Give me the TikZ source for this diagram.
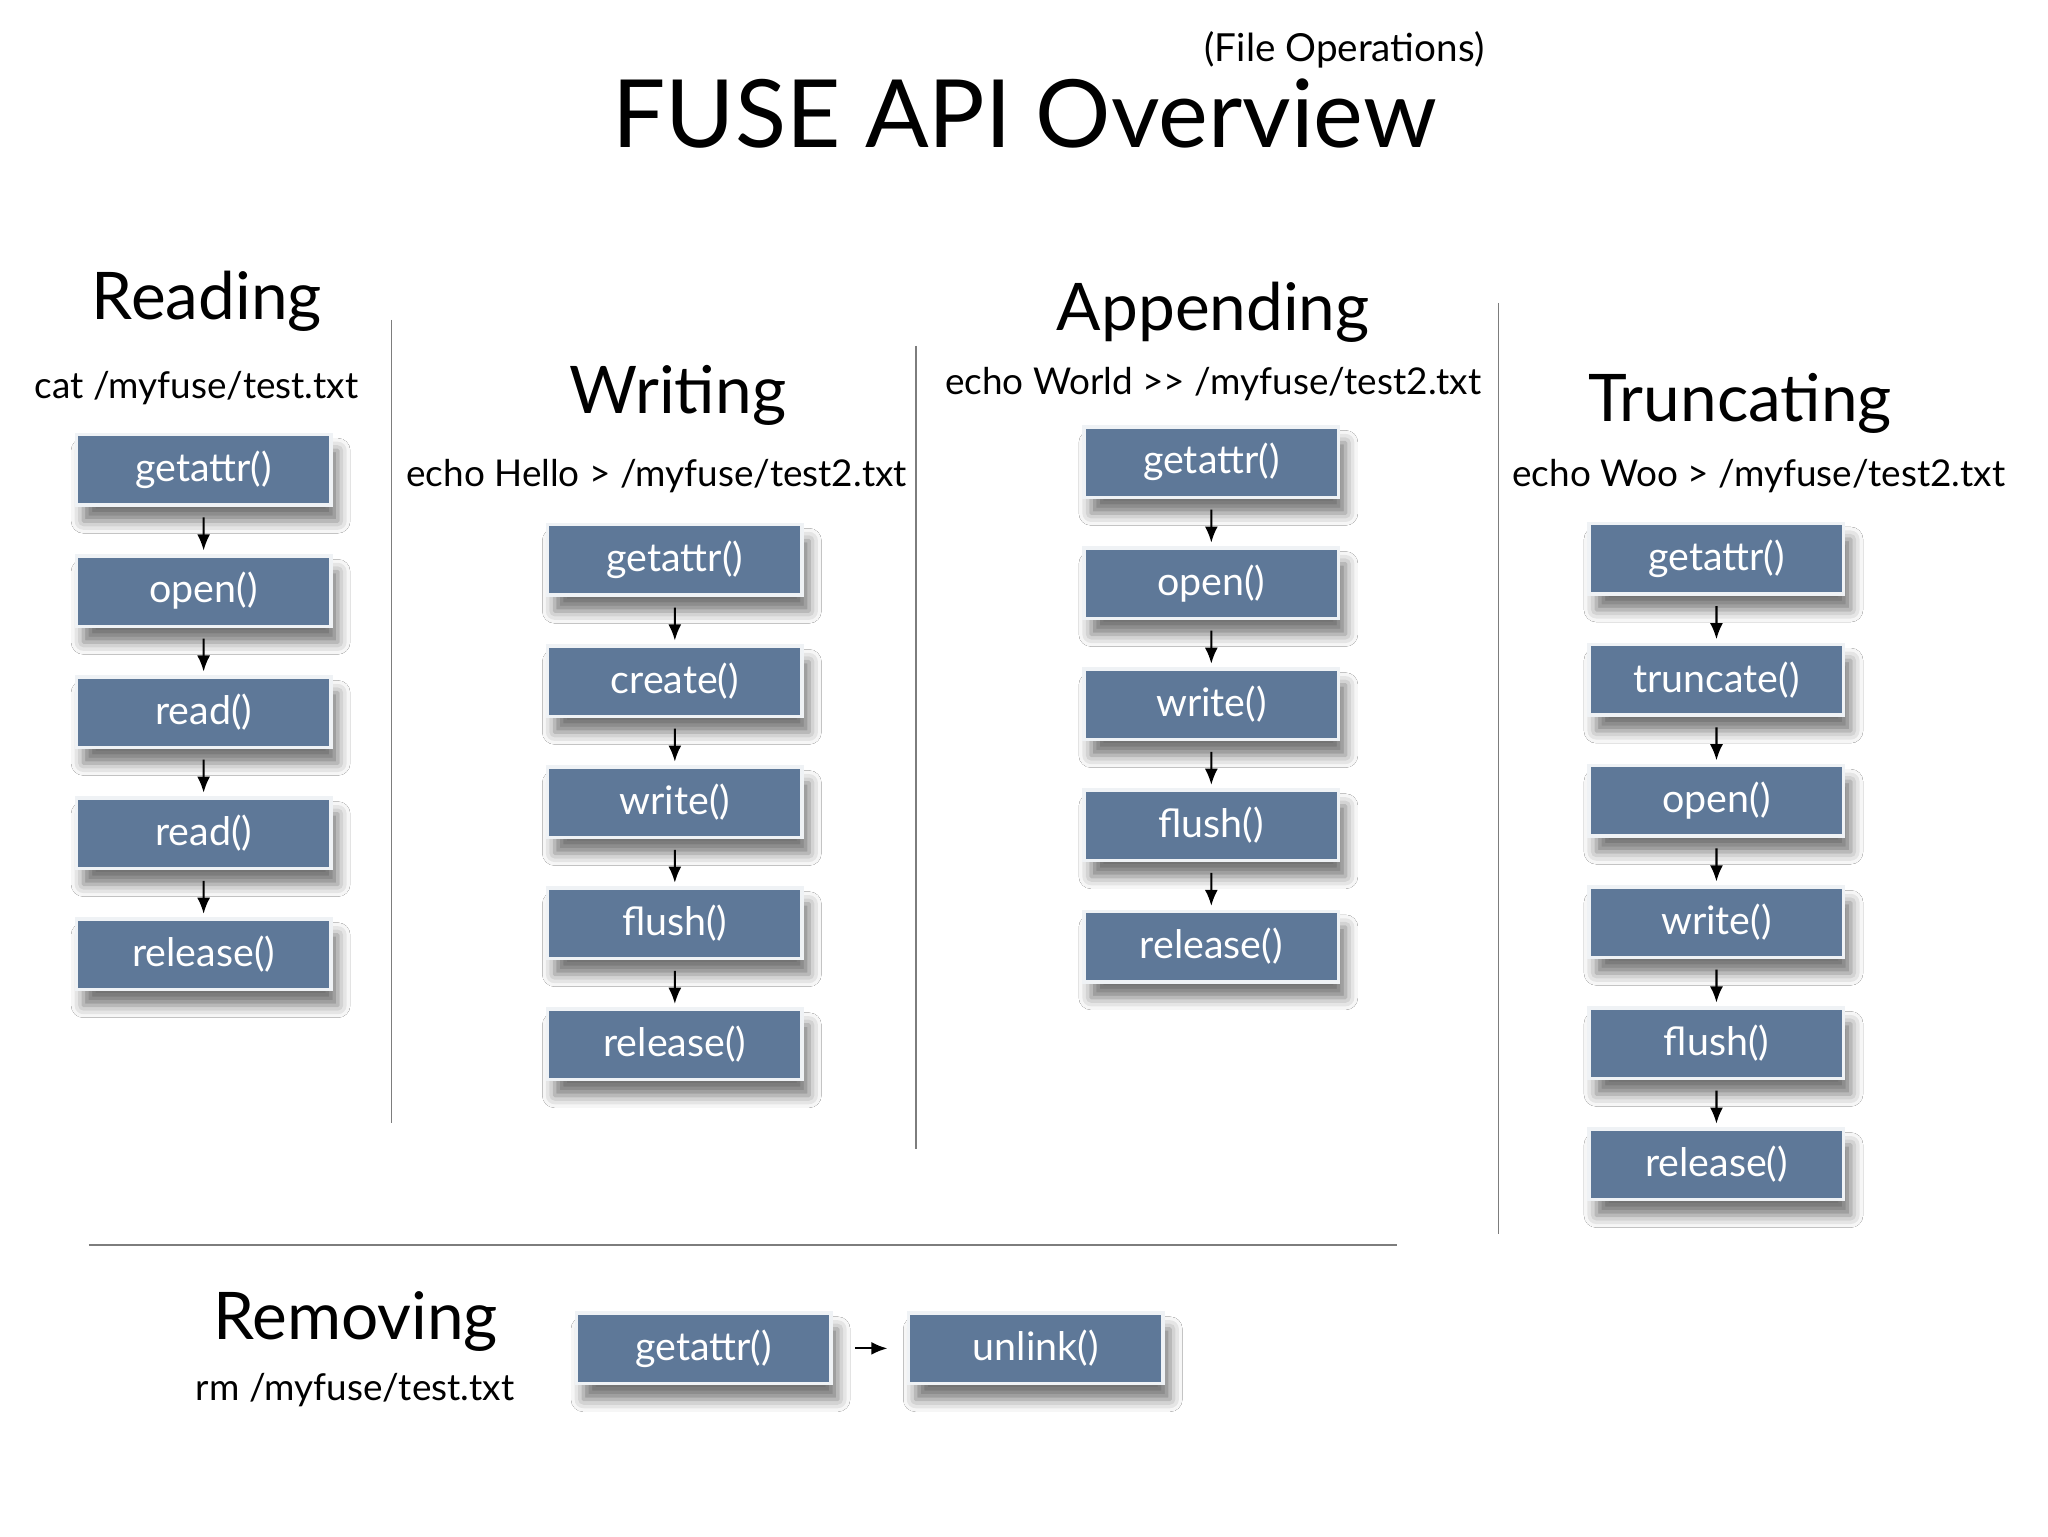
\documentclass[tikz,border=0pt]{standalone}
\usepackage{fontspec}
\setmainfont{Lato}
\usepackage{xcolor}
\usetikzlibrary{trees}
\usetikzlibrary{arrows.meta}
\usetikzlibrary{shadows.blur}
\definecolor{opblue}{RGB}{94,120,152}
\definecolor{rulegray}{RGB}{125,125,125}
\newcommand{\opsize}{\fontsize{11.2}{13}\selectfont}
\newcommand{\cmdsize}{\fontsize{10.5}{12}\selectfont}

\begin{document}
\begin{tikzpicture}[
    x=0.130529mm, y=-0.130529mm,
    grow=down,
    level distance=12.11mm,
    edge from parent/.style={draw,-{Latex[length=4.6pt,width=3.7pt]},line width=0.6pt,shorten <=3pt,shorten >=1pt},
    op/.style={fill=opblue, draw=white!90!opblue, line width=1pt, text=white,
      minimum width=25.45mm, minimum height=7.05mm, inner sep=0pt, font=\opsize,
      blur shadow={shadow xshift=2pt, shadow yshift=-4.5pt, shadow blur radius=3.5pt, shadow opacity=55}},
    heading/.style={anchor=base, font=\fontsize{18.7}{22}\selectfont},
    cmd/.style={anchor=base, font=\cmdsize},
    sep/.style={draw=rulegray, line width=0.5pt}
]
\fill[white] (0,0) rectangle (1569,1177);
\useasboundingbox (0,0) rectangle (1569,1177);

\node[anchor=base, font=\fontsize{26.8}{30}\selectfont] (Title) at (785,113) {FUSE API Overview};
\node[anchor=base, font=\fontsize{11}{13}\selectfont] (SubTitle) at (1030,47) {(File Operations)};

\node[heading] (RdHead) at (158.5,245) {Reading};
\node[cmd] (RdCmd) at (150.5,305) {cat /myfuse/test.txt};
\node[op] (RdGetattr) at (156,360) {getattr()}
  child { node[op] (RdOpen) {open()}
    child { node[op] (RdRead) {read()}
      child { node[op] (RdReadB) {read()}
        child { node[op] (RdRelease) {release()}}
      }
    }
  };

\node[heading] (WrHead) at (519.5,317) {Writing};
\node[cmd] (WrCmd) at (503,373) {echo Hello > /myfuse/test2.txt};
\node[op] (WrGetattr) at (517,429) {getattr()}
  child { node[op] (WrCreate) {create()}
    child { node[op] (WrWrite) {write()}
      child { node[op] (WrFlush) {flush()}
        child { node[op] (WrRelease) {release()}}
      }
    }
  };

\node[heading] (ApHead) at (929.5,253) {Appending};
\node[cmd] (ApCmd) at (929.5,302) {echo World >\kern0pt> /myfuse/test2.txt};
\node[op] (ApGetattr) at (928,354) {getattr()}
  child { node[op] (ApOpen) {open()}
    child { node[op] (ApWrite) {write()}
      child { node[op] (ApFlush) {flush()}
        child { node[op] (ApRelease) {release()}}
      }
    }
  };

\node[heading] (TrHead) at (1333,323) {Truncating};
\node[cmd] (TrCmd) at (1347.5,373) {echo Woo > /myfuse/test2.txt};
\node[op] (TrGetattr) at (1315,428) {getattr()}
  child { node[op] (TrTruncate) {truncate()}
    child { node[op] (TrOpen) {open()}
      child { node[op] (TrWrite) {write()}
        child { node[op] (TrFlush) {flush()}
          child { node[op] (TrRelease) {release()}}
        }
      }
    }
  };

\node[heading] (RmHead) at (272.5,1026) {Removing};
\node[cmd] (RmCmd) at (272,1073) {rm /myfuse/test.txt};
\node[op] (RmGetattr) at (539,1033) {getattr()}
  child[grow=right, level distance=33.22mm,
        edge from parent/.append style={shorten <=6.5pt, shorten >=5.5pt}]
    { node[op] (RmUnlink) {unlink()}};

\draw[sep] (300,245) -- (300,860);
\draw[sep] (702,265) -- (702,880);
\draw[sep] (1148,232) -- (1148,945);
\draw[sep] (68,954) -- (1070,954);
\end{tikzpicture}
\end{document}
